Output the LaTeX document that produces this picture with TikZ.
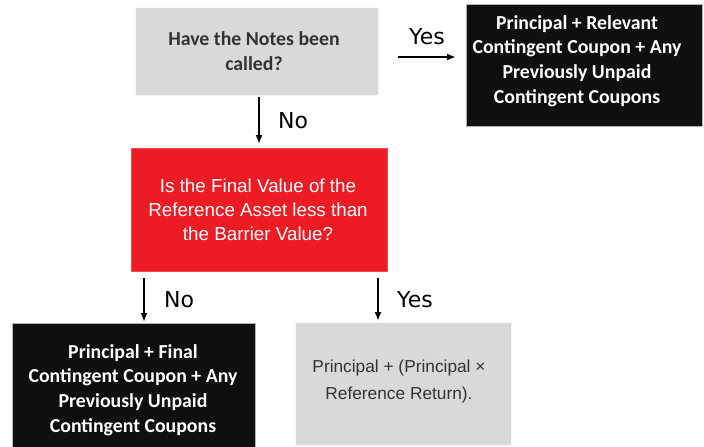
\documentclass[tikz,border=0pt]{standalone}
\usepackage{fontspec}
\setmainfont{Liberation Sans}
\newfontfamily\calib{Carlito}
\newfontfamily\verd{DejaVu Sans}
\usetikzlibrary{arrows.meta}
\definecolor{boxgray}{HTML}{D9D9D9}
\definecolor{boxred}{HTML}{ED1C24}
\definecolor{boxblack}{HTML}{0F0F0F}
\definecolor{txtgray}{HTML}{333333}
\tikzset{
  boxbase/.style={rectangle, inner sep=0pt, outer sep=0pt, align=center},
  graybox/.style={boxbase, fill=boxgray, draw=white!85!boxgray},
  redbox/.style={boxbase, fill=boxred, draw=boxred!80!white, text=white},
  blackbox/.style={boxbase, fill=boxblack, draw=gray!60, line width=0.8pt, text=white},
  txt/.style={inner sep=0pt, align=center},
  boldtxt/.style={txt, font=\calib\bfseries\fontsize{19.8}{24.6}\selectfont},
  plaintxt/.style={txt, font=\fontsize{18.8}{24}\selectfont},
  lbl/.style={font=\verd\fontsize{22}{24}\selectfont, text=black},
  arr/.style={-{Latex[length=9pt,width=7pt]}, line width=1.8pt, black},
}
\begin{document}
\begin{tikzpicture}[x=1pt,y=-1pt]
\useasboundingbox (0,0) rectangle (704,447);
\node[graybox, minimum width=243pt, minimum height=88pt] (q1) at (256.5,51) {};
\node[boldtxt, text=txtgray] (q1t) at (254,51) {Have the Notes been\\called?};
\node[blackbox, minimum width=236pt, minimum height=122pt] (r1) at (584,65) {};
\node[boldtxt, text=white] (r1t) at (577,61) {Principal + Relevant\\Contingent Coupon + Any\\Previously Unpaid\\Contingent Coupons};
\node[redbox, minimum width=256pt, minimum height=123pt] (q2) at (259.5,210) {};
\node[plaintxt, text=white] (q2t) at (258,209.5) {Is the Final Value of the\\Reference Asset less than\\the Barrier Value?};
\node[blackbox, minimum width=243pt, minimum height=126pt] (r2) at (133.5,386) {};
\node[boldtxt, text=white] (r2t) at (133,390) {Principal + Final\\Contingent Coupon + Any\\Previously Unpaid\\Contingent Coupons};
\node[graybox, minimum width=216pt, minimum height=123pt] (r3) at (403.5,383.5) {};
\node[txt, font=\fontsize{17.3}{27}\selectfont, text=txtgray] (r3t) at (399,382) {Principal + (Principal ×\\Reference Return).};
\coordinate (a1s) at (398,57);
\coordinate (a1e) at (456,57);
\draw[arr] (a1s) -- (a1e) node[midway, above=8pt, lbl] (y1) {Yes};
\coordinate (a2s) at (259,97);
\coordinate (a2e) at (259,144);
\draw[arr] (a2s) -- (a2e) node[midway, right=15pt, lbl] (n1) {No};
\coordinate (a3s) at (144,278);
\coordinate (a3e) at (144,322);
\draw[arr] (a3s) -- (a3e) node[midway, right=16pt, lbl] (n2) {No};
\coordinate (a4s) at (378,278);
\coordinate (a4e) at (378,321);
\draw[arr] (a4s) -- (a4e) node[midway, right=15pt, lbl] (y2) {Yes};
\end{tikzpicture}
\end{document}
